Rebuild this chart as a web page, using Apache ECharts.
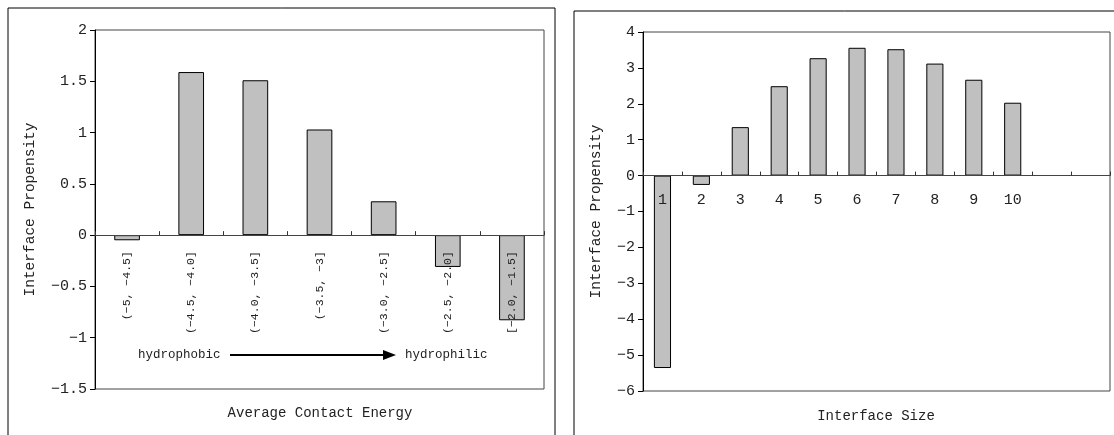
<!DOCTYPE html>
<html>
<head>
<meta charset="utf-8">
<script src="https://cdn.jsdelivr.net/npm/echarts@6/dist/echarts.min.js"></script>
<style>html,body{margin:0;padding:0;background:#fff}#c{width:1114px;height:435px}</style>
</head>
<body>
<div id="c"></div>
<script>
// Left chart data
const energyCategories = ['(-5, -4.5]', '(-4.5, -4.0]', '(-4.0, -3.5]', '(-3.5, -3]', '(-3.0, -2.5]', '(-2.5, -2.0]', '[-2.0, -1.5]'];
const energyValues = [-0.05, 1.59, 1.51, 1.03, 0.33, -0.31, -0.83];
// Right chart data
const sizeCategories = ['1', '2', '3', '4', '5', '6', '7', '8', '9', '10', '', ''];
const sizeValues = [-5.36, -0.26, 1.35, 2.49, 3.27, 3.56, 3.52, 3.12, 2.67, 2.03, null, null];
const leftYTicks = { min: -1.5, max: 2, interval: 0.5 };
const rightYTicks = { min: -6, max: 4, interval: 1 };

const FONT = 'Liberation Mono';
const TXT = '#222';
const minus = s => String(s).replace(/-/g, '\u2212');

const W = 1114, H = 435;
const gridL = { left: 95, right: W - 544, top: 30, bottom: H - 389 };
const gridR = { left: 643, right: W - 1110, top: 32, bottom: H - 391 };
// distance from grid bottom up to the zero line, from the axis range
const zeroOffset = (g, t) => -((0 - t.min) / (t.max - t.min)) * (H - g.top - g.bottom);

const chart = echarts.init(document.getElementById('c'), null, { renderer: 'canvas' });

function yAxisCfg(ticks, gridIndex, gap) {
  return {
    type: 'value', gridIndex, min: ticks.min, max: ticks.max, interval: ticks.interval,
    name: 'Interface Propensity', nameLocation: 'middle', nameGap: gap,
    nameTextStyle: { fontFamily: FONT, fontSize: 14.5, color: TXT },
    axisLine: { show: true, lineStyle: { color: '#000', width: 1 } },
    axisTick: { show: true, inside: false, length: 5, lineStyle: { color: '#000' } },
    axisLabel: { fontFamily: FONT, fontSize: 15, color: TXT, margin: 8, formatter: v => minus(v) },
    splitLine: { show: false }
  };
}

chart.setOption({
  animation: false,
  grid: [
    Object.assign({ show: true, borderColor: '#444', borderWidth: 1, containLabel: false, outerBoundsMode: 'none' }, gridL),
    Object.assign({ show: true, borderColor: '#444', borderWidth: 1, containLabel: false, outerBoundsMode: 'none' }, gridR)
  ],
  xAxis: [
    {
      type: 'category', gridIndex: 0, data: energyCategories, z: 10, position: 'bottom',
      offset: zeroOffset(gridL, leftYTicks),
      axisLine: { onZero: false, lineStyle: { color: '#444', width: 1 } },
      axisTick: { show: true, inside: true, length: 4, lineStyle: { color: '#333' } },
      axisLabel: { rotate: 90, interval: 0, margin: 16, fontFamily: FONT, fontSize: 11.5, color: TXT, formatter: v => minus(v) }
    },
    {
      type: 'category', gridIndex: 1, data: sizeCategories, z: 10, position: 'bottom',
      offset: zeroOffset(gridR, rightYTicks),
      axisLine: { onZero: false, lineStyle: { color: '#444', width: 1 } },
      axisTick: { show: true, inside: true, length: 4, lineStyle: { color: '#333' } },
      axisLabel: { interval: 0, margin: 17, fontFamily: FONT, fontSize: 15, color: TXT }
    }
  ],
  yAxis: [yAxisCfg(leftYTicks, 0, 57), yAxisCfg(rightYTicks, 1, 39)],
  series: [
    {
      type: 'bar', xAxisIndex: 0, yAxisIndex: 0, data: energyValues, barWidth: '40%',
      itemStyle: { color: '#c0c0c0', borderColor: '#000', borderWidth: 1 }
    },
    {
      type: 'bar', xAxisIndex: 1, yAxisIndex: 1, data: sizeValues, barWidth: '44%',
      itemStyle: { color: '#c0c0c0', borderColor: '#000', borderWidth: 1 }
    }
  ],
  graphic: [
    { type: 'rect', shape: { x: 8, y: 8, width: 547, height: 450 }, style: { fill: 'none', stroke: '#000', lineWidth: 1 }, z: 100 },
    { type: 'rect', shape: { x: 574, y: 11, width: 560, height: 450 }, style: { fill: 'none', stroke: '#000', lineWidth: 1 }, z: 100 },
    { type: 'text', x: 320, y: 413, style: { text: 'Average Contact Energy', font: '14px "' + FONT + '"', fill: TXT, textAlign: 'center', textVerticalAlign: 'middle' }, z: 100 },
    { type: 'text', x: 876, y: 416, style: { text: 'Interface Size', font: '14px "' + FONT + '"', fill: TXT, textAlign: 'center', textVerticalAlign: 'middle' }, z: 100 },
    { type: 'text', x: 138, y: 355, style: { text: 'hydrophobic', font: '12.5px "' + FONT + '"', fill: TXT, textAlign: 'left', textVerticalAlign: 'middle' }, z: 100 },
    { type: 'text', x: 405, y: 355, style: { text: 'hydrophilic', font: '12.5px "' + FONT + '"', fill: TXT, textAlign: 'left', textVerticalAlign: 'middle' }, z: 100 },
    { type: 'line', shape: { x1: 230, y1: 355, x2: 384, y2: 355 }, style: { stroke: '#000', lineWidth: 2 }, z: 100 },
    { type: 'polygon', shape: { points: [[383, 350], [396, 355], [383, 360]] }, style: { fill: '#000' }, z: 100 }
  ]
});
</script>
</body>
</html>
